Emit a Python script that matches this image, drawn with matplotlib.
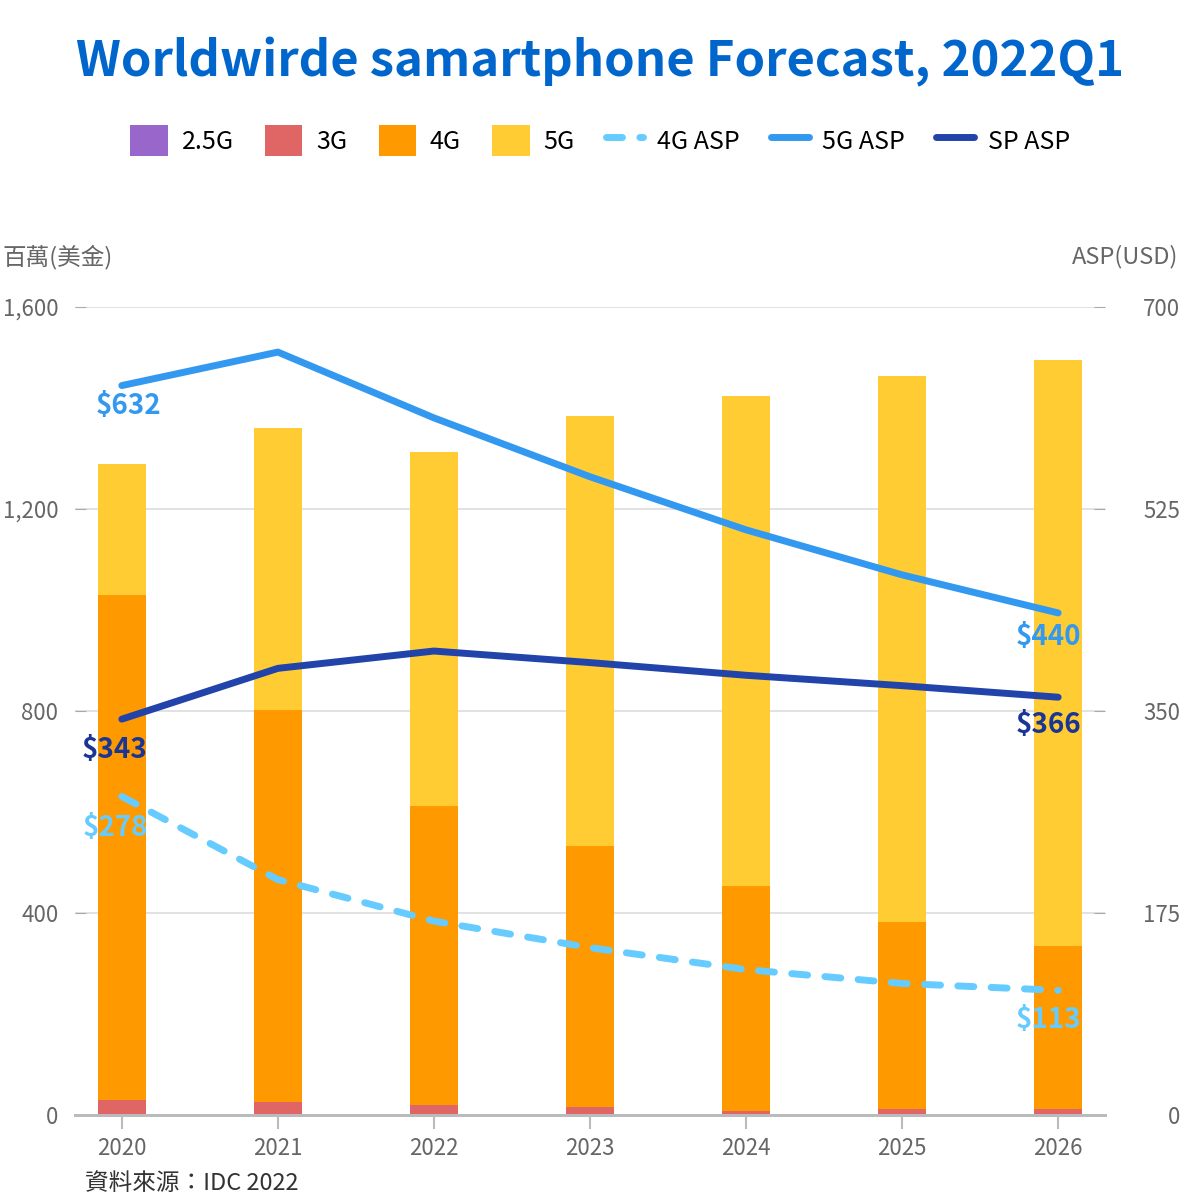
import numpy as np
import matplotlib.pyplot as plt
from matplotlib.ticker import FixedLocator, FuncFormatter

plt.rcParams['font.family'] = ['Noto Sans CJK TC', 'DejaVu Sans']

# ---- data ----
years = ['2020', '2021', '2022', '2023', '2024', '2025', '2026']
g25 = [1, 1, 0, 0, 0, 0, 0]
g3 = [28, 24, 20, 16, 8, 12, 12]
g4 = [1000, 778, 592, 517, 445, 370, 323]
g5 = [261, 558, 701, 851, 971, 1081, 1160]

asp_4g = [276, 204, 168, 145, 126, 114, 108]
asp_5g = [632, 661, 604, 553, 507, 468, 435]
asp_sp = [343, 387, 402, 392, 381, 372, 362]

# values printed at the ends of the lines
lab_4g = [278, 113]
lab_5g = [632, 440]
lab_sp = [343, 366]

c25, c3, c4, c5 = '#9966cc', '#e06666', '#ff9900', '#ffcc33'
c4asp, c5asp, cspasp = '#66ccff', '#3399f0', '#2244aa'

x = np.arange(len(years))
fig = plt.figure(figsize=(12, 12), dpi=100)
ax = fig.add_axes([0.0625, 0.0708, 0.8583, 0.6733])
ax2 = ax.twinx()

w = 0.31
b = np.zeros(len(x))
bars = []
for vals, col, lab in [(g25, c25, '2.5G'), (g3, c3, '3G'), (g4, c4, '4G'), (g5, c5, '5G')]:
    bars.append(ax.bar(x, vals, w, bottom=b, color=col, label=lab, zorder=2))
    b = b + np.array(vals)

l1, = ax2.plot(x, asp_4g, color=c4asp, lw=5, ls=(0, (2.3, 2.5)), dash_capstyle='round', label='4G ASP')
l2, = ax2.plot(x, asp_5g, color=c5asp, lw=5, label='5G ASP', solid_capstyle='round')
l3, = ax2.plot(x, asp_sp, color=cspasp, lw=5, label='SP ASP', solid_capstyle='round')

# endpoint labels
for series, labs, col, dx0, dy0, dy1 in [(asp_5g, lab_5g, c5asp, 5, -15, -17),
                                         (asp_sp, lab_sp, '#1a3594', -5, -22, -20),
                                         (asp_4g, lab_4g, c4asp, -5, -23, -21)]:
    ax2.annotate(f'${labs[0]}', (x[0], series[0]), xytext=(dx0, dy0), textcoords='offset points',
                 ha='center', va='center', color=col, fontsize=20, fontweight='bold')
    ax2.annotate(f'${labs[1]}', (x[-1], series[-1]), xytext=(-7, dy1), textcoords='offset points',
                 ha='center', va='center', color=col, fontsize=20, fontweight='bold')

ax.set_xlim(-0.3, 6.3)
ax.set_ylim(0, 1600)
ax2.set_ylim(0, 700)
ax.set_xticks(x)
ax.set_xticklabels(years)
ax.yaxis.set_major_locator(FixedLocator([0, 400, 800, 1200, 1600]))
ax.yaxis.set_major_formatter(FuncFormatter(lambda v, p: f'{int(v):,}'))
ax2.yaxis.set_major_locator(FixedLocator([0, 175, 350, 525, 700]))

ax.grid(axis='y', color='#dddddd', lw=1.2, zorder=0)
ax.set_axisbelow(True)
for a in (ax, ax2):
    for s in ('top', 'left', 'right'):
        a.spines[s].set_visible(False)
    a.spines['bottom'].set_color('#bbbbbb')
    a.spines['bottom'].set_linewidth(2)
ax.tick_params(axis='y', direction='in', length=8, color='#aaaaaa', labelsize=16,
               labelcolor='#666666', pad=12)
ax2.tick_params(axis='y', direction='in', length=8, color='#aaaaaa', labelsize=16,
                labelcolor='#666666')
for t in ax2.get_yticklabels():
    t.set_horizontalalignment('right')
ax2.yaxis.set_tick_params(pad=54)
ax.tick_params(axis='x', length=10, width=1.5, color='#bbbbbb', labelsize=16,
               labelcolor='#666666', pad=6)

fig.text(0.002, 0.786, '百萬(美金)', fontsize=17, color='#666666', ha='left', va='center')
fig.text(0.982, 0.786, 'ASP(USD)', fontsize=17, color='#666666', ha='right', va='center')
fig.text(0.071, 0.014, '資料來源：IDC 2022', fontsize=17, color='#333333', ha='left', va='center')

fig.text(0.5, 0.948, 'Worldwirde samartphone Forecast, 2022Q1', fontsize=35.3, fontweight='bold',
         color='#0066cc', ha='center', va='center')

handles = [bars[0], bars[1], bars[2], bars[3], l1, l2, l3]
labels = ['2.5G', '3G', '4G', '5G', '4G ASP', '5G ASP', 'SP ASP']
fig.legend(handles, labels, loc='center', bbox_to_anchor=(0.5, 0.883), ncol=7, frameon=False,
           fontsize=18, handlelength=1.5, handleheight=1.5, handletextpad=0.55, columnspacing=1.25)

fig.savefig('out.png', dpi=100)
